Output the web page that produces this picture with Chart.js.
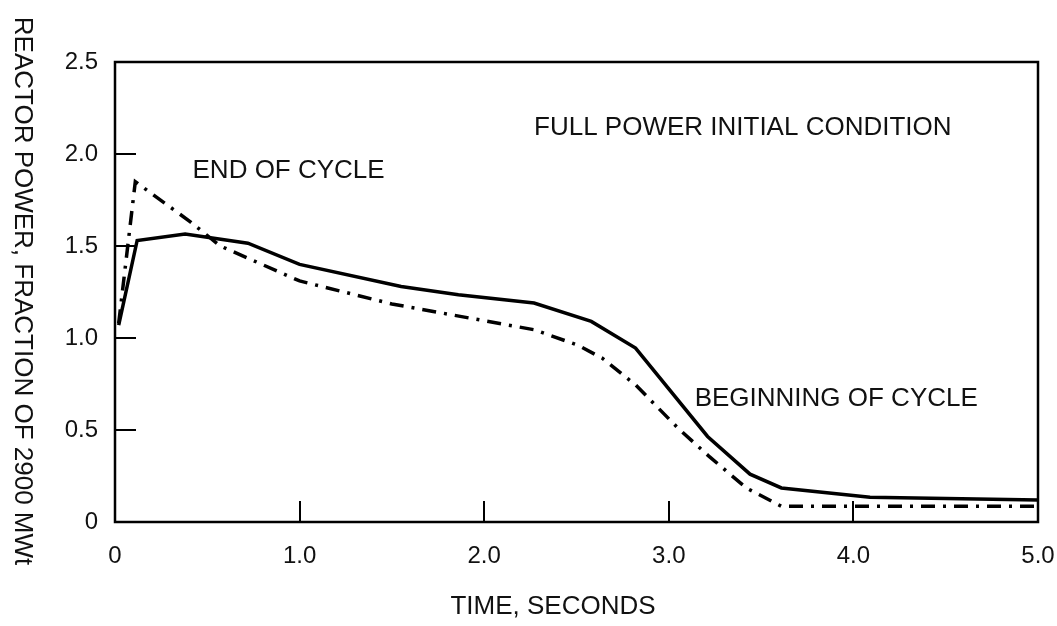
<!DOCTYPE html>
<html>
<head>
<meta charset="utf-8">
<script src="https://cdn.jsdelivr.net/npm/chart.js@4.4.1/dist/chart.umd.min.js"></script>
<style>
  html, body { margin: 0; padding: 0; background: #fff; }
  #wrap { width: 1057px; height: 626px; }
</style>
</head>
<body>
<div id="wrap"><canvas id="power-chart"></canvas></div>
<script>
// Beginning of cycle (solid line)
const bocTime  = [0.02, 0.12, 0.38, 0.72, 1.0, 1.55, 1.86, 2.27, 2.58, 2.82, 3.21, 3.44, 3.61, 4.09, 5.0];
const bocPower = [1.07, 1.53, 1.565, 1.515, 1.40, 1.28, 1.235, 1.19, 1.09, 0.945, 0.465, 0.26, 0.185, 0.135, 0.12];

// End of cycle (dash-dot line)
const eocTime  = [0.02, 0.11, 0.41, 0.57, 1.0, 1.5, 2.27, 2.51, 2.64, 2.82, 3.05, 3.22, 3.42, 3.61, 5.0];
const eocPower = [1.08, 1.85, 1.63, 1.50, 1.31, 1.185, 1.045, 0.96, 0.89, 0.745, 0.51, 0.355, 0.185, 0.085, 0.085];

const xTicks = [0, 1, 2, 3, 4, 5];
const xTickLabels = ["0", "1.0", "2.0", "3.0", "4.0", "5.0"];
const yTicks = [0, 0.5, 1.0, 1.5, 2.0, 2.5];
const yTickLabels = ["0", "0.5", "1.0", "1.5", "2.0", "2.5"];

const notes = [
  { text: "FULL POWER INITIAL CONDITION", x: 2.27, y: 2.14 },
  { text: "END OF CYCLE", x: 0.42, y: 1.91 },
  { text: "BEGINNING OF CYCLE", x: 3.14, y: 0.67 },
];

const FONT = "'Liberation Sans', Arial, Helvetica, sans-serif";

function toPoints(xs, ys) {
  return xs.map((x, i) => ({ x: x, y: ys[i] }));
}

// draws the frame, inward tick marks, axis titles and the text notes
const framePlugin = {
  id: "frame",
  afterDraw(chart) {
    const ctx = chart.ctx;
    const a = chart.chartArea;
    const xs = chart.scales.x;
    const ys = chart.scales.y;
    ctx.save();
    ctx.strokeStyle = "#000";
    ctx.lineWidth = 2.5;
    ctx.strokeRect(a.left, a.top, a.right - a.left, a.bottom - a.top);

    ctx.lineWidth = 2;
    ctx.beginPath();
    [0.5, 1.0, 1.5, 2.0].forEach((v) => {
      const py = Math.round(ys.getPixelForValue(v));
      ctx.moveTo(a.left, py);
      ctx.lineTo(a.left + 21, py);
    });
    [1, 2, 3, 4].forEach((v) => {
      const px = Math.round(xs.getPixelForValue(v));
      ctx.moveTo(px, a.bottom);
      ctx.lineTo(px, a.bottom - 21);
    });
    ctx.stroke();

    ctx.fillStyle = "#111";
    ctx.font = "26px " + FONT;
    ctx.textAlign = "center";
    ctx.textBaseline = "middle";
    ctx.fillText("TIME, SECONDS", 553, 607);

    ctx.save();
    ctx.translate(22, 291);
    ctx.rotate(Math.PI / 2);
    ctx.fillText("REACTOR POWER, FRACTION OF 2900 MWt", 0, 0);
    ctx.restore();

    ctx.textAlign = "left";
    notes.forEach((n) => {
      ctx.fillText(n.text, xs.getPixelForValue(n.x), ys.getPixelForValue(n.y));
    });
    ctx.restore();
  },
};

const ctx = document.getElementById("power-chart").getContext("2d");
new Chart(ctx, {
  type: "scatter",
  data: {
    datasets: [
      {
        label: "Beginning of cycle",
        data: toPoints(bocTime, bocPower),
        showLine: true,
        borderColor: "#000",
        borderWidth: 3.5,
        pointRadius: 0,
        tension: 0,
      },
      {
        label: "End of cycle",
        data: toPoints(eocTime, eocPower),
        showLine: true,
        borderColor: "#000",
        borderWidth: 3.5,
        borderDash: [14, 8, 3, 8],
        pointRadius: 0,
        tension: 0,
      },
    ],
  },
  options: {
    responsive: true,
    maintainAspectRatio: false,
    animation: false,
    layout: { padding: { top: 62, right: 19, left: 0, bottom: 0 } },
    plugins: { legend: { display: false }, tooltip: { enabled: false } },
    scales: {
      x: {
        type: "linear",
        min: 0,
        max: 5,
        afterBuildTicks: (s) => { s.ticks = xTicks.map((v) => ({ value: v })); },
        afterFit: (s) => { s.height = 104; s.paddingLeft = 0; s.paddingRight = 0; },
        grid: { display: false, drawTicks: false },
        border: { display: false },
        ticks: {
          padding: 20,
          color: "#111",
          font: { family: FONT, size: 24 },
          maxRotation: 0,
          callback: (v) => xTickLabels[xTicks.indexOf(v)],
        },
      },
      y: {
        min: 0,
        max: 2.5,
        afterBuildTicks: (s) => { s.ticks = yTicks.map((v) => ({ value: v })); },
        afterFit: (s) => { s.width = 115; s.paddingTop = 0; s.paddingBottom = 0; },
        grid: { display: false, drawTicks: false },
        border: { display: false },
        ticks: {
          padding: 17,
          color: "#111",
          font: { family: FONT, size: 24 },
          callback: (v) => yTickLabels[yTicks.indexOf(v)],
        },
      },
    },
  },
  plugins: [framePlugin],
});
</script>
</body>
</html>
